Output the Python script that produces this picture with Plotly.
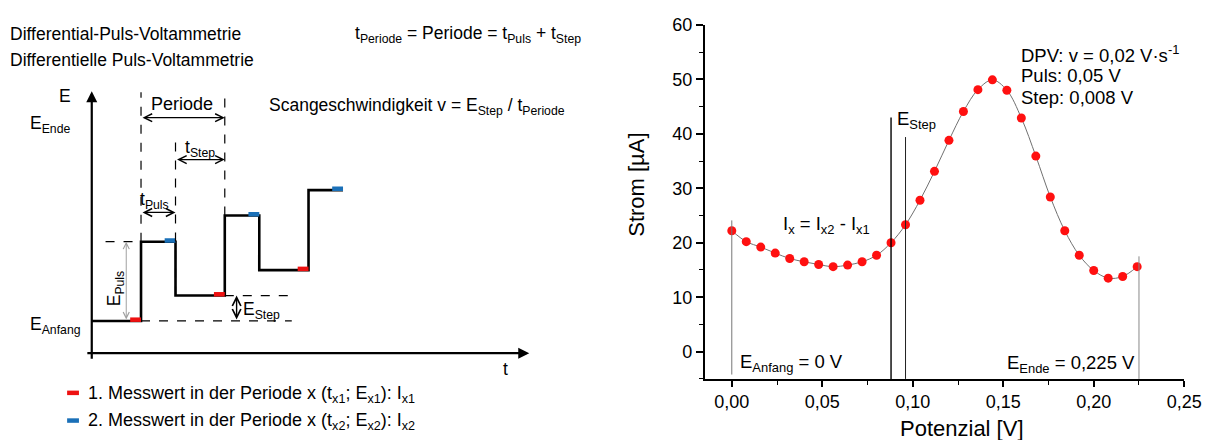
import plotly.graph_objects as go

# ---------------- right chart data (DPV voltammogram) ----------------
potential = [0.000, 0.008, 0.016, 0.024, 0.032, 0.040, 0.048, 0.056, 0.064, 0.072,
             0.080, 0.088, 0.096, 0.104, 0.112, 0.120, 0.128, 0.136, 0.144, 0.152,
             0.160, 0.168, 0.176, 0.184, 0.192, 0.200, 0.208, 0.216, 0.224]
current = [22.2, 20.2, 19.2, 18.1, 17.1, 16.5, 16.0, 15.6, 15.9, 16.5,
           17.7, 20.0, 23.3, 27.8, 33.1, 38.8, 44.1, 48.1, 49.9, 48.0,
           42.9, 35.9, 28.4, 22.2, 17.7, 14.9, 13.5, 13.8, 15.6]
vline_x = [0.0, 0.088, 0.096, 0.225]
vline_top = [24.1, 43.0, 39.4, 17.5]
vline_bottom = [-4.2, -5.0, -5.0, -5.0]
vline_color = ["#777777", "#000000", "#222222", "#888888"]
vline_width = [1.0, 1.4, 1.0, 1.0]

# ---------------- left schematic data (potential E vs time t, arbitrary units) ----------------
step_t = [0, 1.0, 1.0, 1.7, 1.7, 2.7, 2.7, 3.4, 3.4, 4.4, 4.4, 5.1]
step_E = [0, 0, 3.12, 3.12, 1.0, 1.0, 4.15, 4.15, 2.0, 2.0, 5.15, 5.15]
meas1_t = [1.0, 2.7, 4.4]      # end of each step level (1. Messwert)
meas1_E = [0.0, 1.0, 2.0]
meas2_t = [1.7, 3.4, 5.1]      # end of each pulse level (2. Messwert)
meas2_E = [3.12, 4.15, 5.15]
mark_len = 0.22

W, H = 1229, 440
OFF = 8  # page body margin of the browser
FONT = "Liberation Sans, Arial, sans-serif"
RED = "#ee1111"
BLUE = "#1a70b8"

def X(px):
    return (px - OFF) / W

def Y(py):
    return 1 - (py - OFF) / H

fig = go.Figure()

# ---- right chart
fig.add_trace(go.Scatter(x=potential, y=current, mode="lines+markers",
                         line=dict(color="#707070", width=1, shape="spline"),
                         marker=dict(color="#ff1010", size=9),
                         xaxis="x", yaxis="y", showlegend=False))
for vx, vt, vb, vc, vw in zip(vline_x, vline_top, vline_bottom, vline_color, vline_width):
    fig.add_trace(go.Scatter(x=[vx, vx], y=[vb, vt], mode="lines",
                             line=dict(color=vc, width=vw),
                             xaxis="x", yaxis="y", showlegend=False))

# ---- left schematic: step curve
fig.add_trace(go.Scatter(x=step_t, y=step_E, mode="lines",
                         line=dict(color="black", width=2.6),
                         xaxis="x2", yaxis="y2", showlegend=False))

def seg_trace(ts, es, color):
    xs, ys = [], []
    for t, e in zip(ts, es):
        xs += [t - mark_len, t, None]
        ys += [e + 0.05, e + 0.05, None]
    return go.Scatter(x=xs, y=ys, mode="lines", line=dict(color=color, width=4.5),
                      xaxis="x2", yaxis="y2", showlegend=False)

fig.add_trace(seg_trace(meas1_t, meas1_E, RED))
fig.add_trace(seg_trace(meas2_t, meas2_E, BLUE))

# legend marks (left panel)
leg_t = [-0.5, -0.26]
fig.add_trace(go.Scatter(x=leg_t, y=[-2.83, -2.83], mode="lines", line=dict(color=RED, width=4.5),
                         xaxis="x2", yaxis="y2", showlegend=False))
fig.add_trace(go.Scatter(x=leg_t, y=[-3.92, -3.92], mode="lines", line=dict(color=BLUE, width=4.5),
                         xaxis="x2", yaxis="y2", showlegend=False))

shapes = []
def dline(x0, y0, x1, y1):
    shapes.append(dict(type="line", xref="x2", yref="y2", x0=x0, y0=y0, x1=x1, y1=y1,
                       line=dict(color="black", width=1.2, dash="dash")))

dline(1.0, 3.12, 1.0, 9.0)
dline(2.7, 4.15, 2.7, 9.0)
dline(1.7, 1.0, 1.7, 7.17)
dline(0.28, 3.12, 1.0, 3.12)
dline(2.7, 1.0, 4.06, 1.0)
dline(1.0, 0.0, 4.06, 0.0)

ann = []
def arrow(x, y, ax, ay, double=False, color="black", width=1.3, head=5, size=1.2):
    d = dict(x=x, y=y, ax=ax, ay=ay, xref="x2", yref="y2", axref="x2", ayref="y2",
             text="", showarrow=True, arrowhead=head, arrowwidth=width, arrowcolor=color,
             arrowsize=size, standoff=0, startstandoff=0)
    if double:
        d.update(arrowside="end+start", startarrowhead=head, startarrowsize=size)
    ann.append(d)

# axes of the schematic
arrow(0, 9.04, 0, -1.55, head=2, width=2.2, size=1.0)
arrow(8.88, -1.27, -0.12, -1.27, head=2, width=2.2, size=1.0)
# dimension arrows
arrow(2.7, 8.0, 1.0, 8.0, double=True)
arrow(2.7, 6.35, 1.7, 6.35, double=True)
arrow(1.7, 4.27, 1.0, 4.27, double=True)
arrow(0.7, 3.12, 0.7, 0.0, double=True, color="#a0a0a0", width=1.0)
arrow(2.94, 1.0, 2.94, 0.0, double=True, width=1.4)

def txt(x, y, s, xanchor="left", xref="x2", yref="y2", size=17.5, angle=0, yanchor="middle"):
    ann.append(dict(x=x, y=y, xref=xref, yref=yref, text=s, showarrow=False,
                    xanchor=xanchor, yanchor=yanchor, textangle=angle, borderpad=0,
                    font=dict(family=FONT, size=size, color="black")))

def ptxt(px, py, s, xanchor="left", size=17.5, angle=0):
    txt(X(px), Y(py), s, xanchor=xanchor, xref="paper", yref="paper", size=size, angle=angle)

# titles / formulas of the left panel
ptxt(9, 24, "Differential-Puls-Voltammetrie")
ptxt(9, 51, "Differentielle Puls-Voltammetrie")
ptxt(359, 25, "t<sub>Periode</sub> = Periode = t<sub>Puls</sub> + t<sub>Step</sub>")
ptxt(272, 99, "Scangeschwindigkeit v = E<sub>Step</sub> / t<sub>Periode</sub>")

# schematic labels (t, E units)
txt(-0.54, 8.85, "E", xanchor="center")
txt(8.4, -1.88, "t", xanchor="center")
txt(-1.27, 7.73, "E<sub>Ende</sub>")
txt(-1.27, -0.18, "E<sub>Anfang</sub>")
txt(1.83, 8.55, "Periode", xanchor="center", size=18)
txt(2.19, 6.8, "t<sub>Step</sub>", xanchor="center")
txt(1.28, 4.75, "t<sub>Puls</sub>", xanchor="center")
txt(0.5, 1.3, "E<sub>Puls</sub>", xanchor="center", angle=-90)
txt(3.04, 0.42, "E<sub>Step</sub>")
txt(-0.1, -2.88, "1. Messwert in der Periode x (t<sub>x1</sub>; E<sub>x1</sub>): I<sub>x1</sub>", size=18)
txt(-0.1, -3.97, "2. Messwert in der Periode x (t<sub>x2</sub>; E<sub>x2</sub>): I<sub>x2</sub>", size=18)

# ---- right chart annotations
def rtxt(x, y, s, xanchor="left", size=18.5):
    ann.append(dict(x=x, y=y, xref="x", yref="y", text=s, showarrow=False,
                    xanchor=xanchor, yanchor="middle", borderpad=0,
                    font=dict(family=FONT, size=size, color="black")))

rtxt(0.1594, 54.7, "DPV: v = 0,02 V·s<sup>-1</sup>")
rtxt(0.1594, 50.7, "Puls: 0,05 V")
rtxt(0.1594, 46.6, "Step: 0,008 V")
rtxt(0.0905, 42.6, "E<sub>Step</sub>")
rtxt(0.0275, 23.3, "I<sub>x</sub> = I<sub>x2</sub> - I<sub>x1</sub>")
rtxt(0.0040, -2.1, "E<sub>Anfang</sub> = 0 V")
rtxt(0.2232, -2.2, "E<sub>Ende</sub> = 0,225 V", xanchor="right")

# axis titles
ann.append(dict(x=0.127, y=Y(428), xref="x", yref="paper", text="Potenzial [V]", showarrow=False,
                xanchor="center", yanchor="middle", font=dict(family=FONT, size=22, color="black")))
ann.append(dict(x=X(645), y=Y(179), xref="paper", yref="paper", text="Strom [µA]", showarrow=False,
                textangle=-90, xanchor="center", yanchor="middle",
                font=dict(family=FONT, size=22, color="black")))

fig.update_layout(shapes=shapes, annotations=ann)

fig.update_layout(
    width=W, height=H, margin=dict(l=0, r=0, t=0, b=0),
    paper_bgcolor="white", plot_bgcolor="white",
    separators=",.",
    font=dict(family=FONT, color="black"),
    xaxis=dict(domain=[X(715), X(1201.7)], range=[-0.015, 0.25], anchor="y",
               showline=True, linecolor="black", linewidth=1.5, ticks="outside",
               ticklen=6, tickwidth=1.5, tickcolor="black", dtick=0.05, tick0=0,
               tickformat=".2f", showgrid=False, zeroline=False, ticklabeloverflow="allow",
               minor=dict(dtick=0.025, ticks="outside", ticklen=4, tickwidth=1.2,
                          tickcolor="black", showgrid=False),
               tickfont=dict(size=18)),
    yaxis=dict(domain=[Y(377.3), Y(15)], range=[-5, 60], anchor="x",
               showline=True, linecolor="black", linewidth=1.5, ticks="outside",
               ticklen=7, tickwidth=1.5, tickcolor="black", dtick=10, tick0=0,
               showgrid=False, zeroline=False, ticklabeloverflow="allow",
               minor=dict(dtick=5, ticks="outside", ticklen=4, tickwidth=1.2,
                          tickcolor="black", showgrid=False),
               tickfont=dict(size=18)),
    xaxis2=dict(domain=[0, 0.5], range=[(OFF - 93) / 50, (0.5 * W + OFF - 93) / 50],
                anchor="y2", visible=False),
    yaxis2=dict(domain=[0, 1], range=[(318 - (H + OFF)) / 26, (318 - OFF) / 26],
                anchor="x2", visible=False),
)

fig.write_html("out.html")
